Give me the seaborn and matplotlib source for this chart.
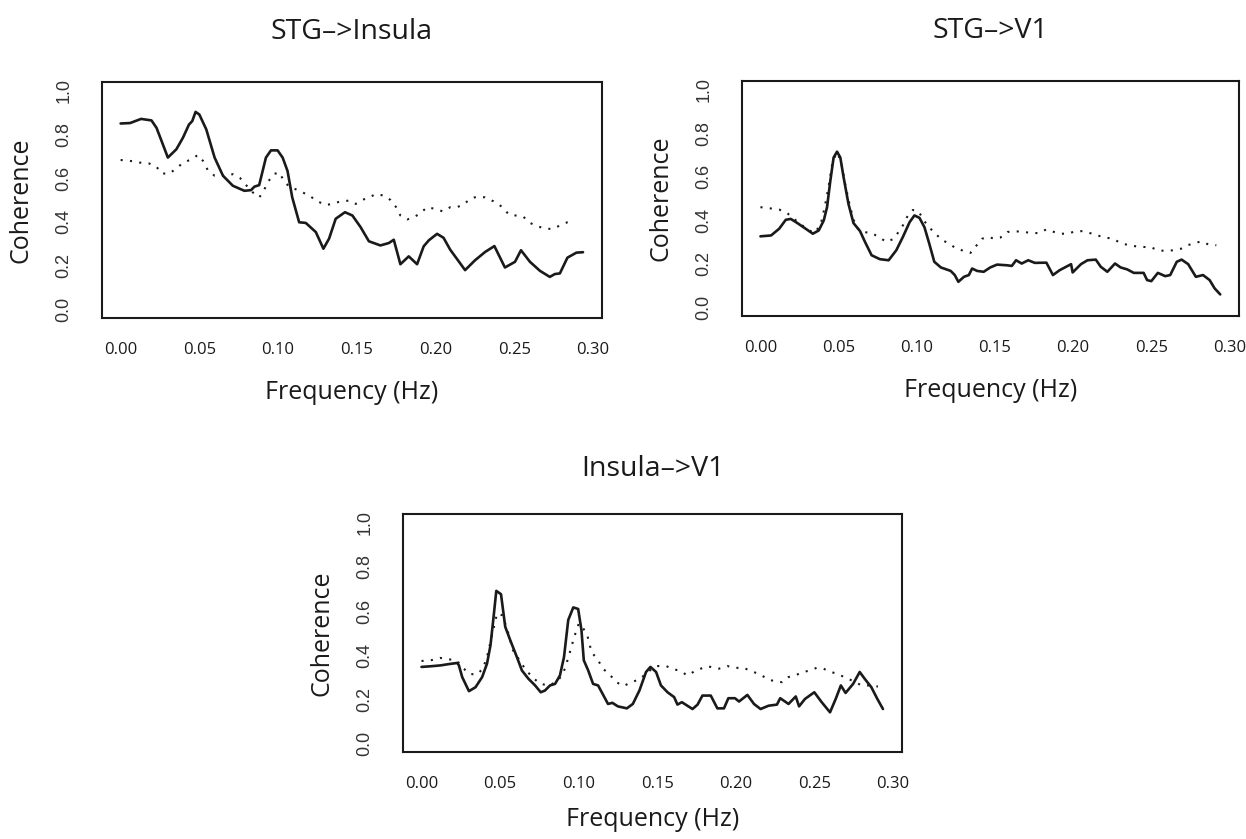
import pandas as pd
import seaborn as sns
import matplotlib
matplotlib.use("Agg")
import matplotlib.pyplot as plt

# coherence spectra (frequency in Hz)
# solid = observed coherence, dotted = null / threshold curve
stg_insula_freq = [0, .006, .013, .0196, .0228, .026, .030, .0354, .0396, .0434,
                   .0455, .0476, .050, .0544, .0597, .065, .0713, .0786, .0828, .085,
                   .088, .0923, .0955, .0997, .1029, .106, .109, .1134, .1176, .124,
                   .1288, .1324, .1366, .1425, .1472, .1524, .1577, .165, .1704, .1735,
                   .1777, .183, .1883, .1925, .1957, .201, .2051, .2093, .2188, .2251,
                   .2315, .2374, .2441, .2505, .2543, .26, .2663, .2726, .2758, .279,
                   .2838, .2895, .2937]
stg_insula_coh = [.85, .852, .871, .864, .83, .77, .694, .732, .785, .845,
                  .861, .903, .891, .823, .694, .611, .565, .542, .545, .561,
                  .568, .694, .727, .727, .694, .633, .512, .398, .395, .353,
                  .277, .323, .414, .444, .429, .376, .311, .292, .303, .318,
                  .206, .242, .206, .288, .315, .345, .327, .273, .179, .224,
                  .262, .289, .191, .217, .27, .217, .176, .148, .161, .164,
                  .236, .259, .261]
stg_insula_freq_null = [0, .0059, .0122, .0181, .0228, .026, .0312, .0358, .04, .0449,
                        .0491, .0523, .0554, .0597, .066, .0713, .0759, .0797, .0839, .0881,
                        .0907, .0934, .097, .1008, .1039, .1071, .1109, .1155, .1198, .125,
                        .1303, .1345, .1398, .1451, .1493, .1535, .1577, .1623, .1672, .1714,
                        .175, .1777, .182, .1862, .1904, .1946, .1999, .2045, .2094, .2136,
                        .2178, .222, .2262, .2315, .2368, .242, .2467, .2509, .2557, .26,
                        .2648, .2699, .2747, .2789, .2838, .2884]
stg_insula_coh_null = [.683, .679, .671, .667, .652, .621, .621, .648, .671, .686,
                       .706, .679, .636, .611, .611, .618, .6, .568, .535, .512,
                       .539, .58, .618, .626, .585, .561, .55, .535, .52, .494,
                       .477, .482, .494, .497, .482, .5, .512, .527, .52, .5,
                       .467, .429, .411, .421, .439, .467, .459, .448, .467, .467,
                       .479, .505, .515, .512, .494, .47, .433, .429, .424, .395,
                       .38, .368, .368, .383, .398, .402]

stg_v1_freq = [0, .0068, .012, .0162, .0194, .0236, .0289, .0335, .0373, .0405,
               .0426, .0447, .0468, .049, .0511, .0532, .0563, .0595, .0637, .0669,
               .0711, .0764, .082, .0869, .0911, .0954, .0985, .1017, .1049, .108,
               .1112, .1154, .1217, .1243, .1266, .1302, .1333, .1354, .1386, .1428,
               .147, .1513, .1576, .1608, .1635, .1671, .1713, .1755, .1829, .1871,
               .1913, .1955, .1987, .1997, .205, .2092, .2145, .2177, .2219, .2268,
               .2304, .2346, .2388, .2451, .2473, .25, .2542, .2589, .2621, .2663,
               .2694, .2736, .2785, .2831, .2873, .2905, .2941]
stg_v1_coh = [.326, .33, .361, .402, .406, .387, .361, .338, .353, .399,
              .46, .581, .688, .715, .688, .597, .475, .387, .35, .3,
              .239, .221, .216, .262, .323, .391, .422, .411, .368, .292,
              .209, .183, .167, .148, .117, .14, .148, .178, .167, .163,
              .183, .196, .193, .19, .216, .201, .216, .204, .205, .148,
              .17, .186, .198, .16, .198, .216, .219, .186, .163, .201,
              .183, .174, .158, .158, .125, .12, .158, .143, .148, .209,
              .219, .198, .14, .148, .125, .087, .059]
stg_v1_freq_null = [0, .0057, .012, .0169, .0215, .0289, .0342, .0384, .0411, .0437,
                    .0462, .049, .0515, .0542, .0574, .061, .0658, .0711, .0757, .0806,
                    .0854, .0911, .0943, .0975, .1006, .1038, .107, .1112, .1154, .12,
                    .1255, .1302, .1344, .138, .1418, .1456, .1496, .1534, .158, .1635,
                    .1688, .1734, .1783, .1829, .1878, .1924, .1966, .2013, .2061, .2103,
                    .2156, .2209, .2255, .2304, .2357, .2403, .2451, .2494, .2542, .2589,
                    .2642, .269, .2732, .2779, .2821, .2867, .2916]
stg_v1_coh_null = [.46, .455, .449, .434, .406, .364, .341, .376, .46, .559,
                   .673, .711, .673, .566, .46, .368, .346, .341, .323, .3,
                   .315, .376, .422, .447, .444, .411, .371, .346, .312, .295,
                   .269, .259, .25, .282, .315, .323, .315, .32, .346, .349,
                   .346, .341, .341, .358, .346, .338, .338, .349, .35, .342,
                   .33, .32, .315, .295, .285, .28, .277, .277, .262, .259,
                   .262, .269, .285, .295, .303, .288, .285]

insula_v1_freq = [0, .0059, .0122, .0175, .0228, .0238, .0259, .0302, .0344, .0386,
                  .0417, .0439, .046, .0476, .0506, .0533, .0565, .0607, .0639, .0681,
                  .0723, .0759, .0786, .0818, .085, .0881, .0907, .0934, .0966, .0997,
                  .1018, .1033, .1061, .1092, .1124, .1187, .1215, .125, .1307, .1345,
                  .1387, .1429, .1457, .1493, .1524, .1566, .1608, .1629, .1657, .1725,
                  .1757, .1788, .1841, .1883, .1925, .1953, .1995, .2021, .2074, .2116,
                  .2158, .2209, .2262, .2283, .2336, .2382, .2403, .2441, .25, .2547,
                  .26, .2638, .2669, .2699, .2747, .2789, .2821, .2863, .2901, .2937]
insula_v1_coh = [.346, .349, .353, .359, .364, .353, .3, .236, .254, .3,
                 .361, .444, .581, .691, .676, .528, .467, .391, .33, .292,
                 .262, .231, .239, .262, .269, .307, .391, .559, .616, .609,
                 .513, .376, .33, .269, .262, .178, .183, .167, .158, .178,
                 .239, .323, .346, .323, .262, .231, .209, .175, .186, .155,
                 .175, .216, .216, .158, .158, .204, .204, .189, .219, .178,
                 .155, .17, .175, .204, .178, .212, .167, .201, .231, .186,
                 .14, .204, .262, .228, .269, .323, .292, .254, .201, .155]
insula_v1_freq_null = [0, .0059, .0118, .0169, .0223, .0259, .0302, .035, .0392, .0422,
                       .0449, .0481, .0512, .0544, .0582, .0624, .0666, .0713, .0755, .0814,
                       .086, .0886, .0913, .0945, .0972, .1001, .1029, .1054, .1082, .1124,
                       .1155, .1198, .124, .1286, .1335, .1387, .144, .1493, .1556, .1598,
                       .1651, .1693, .1746, .182, .1893, .1946, .1999, .2041, .2104, .2156,
                       .2209, .2252, .2294, .2336, .2389, .2431, .2473, .2515, .2557, .261,
                       .2669, .2716, .2762, .28, .2853, .2905]
insula_v1_coh_null = [.373, .376, .387, .381, .376, .346, .315, .311, .338, .406,
                      .49, .589, .581, .521, .422, .376, .33, .295, .269, .262,
                      .28, .3, .338, .414, .482, .543, .521, .493, .414, .376,
                      .338, .311, .277, .259, .277, .289, .323, .35, .35, .338,
                      .326, .307, .33, .349, .338, .35, .341, .344, .326, .311,
                      .289, .28, .277, .3, .311, .323, .33, .342, .338, .323,
                      .307, .292, .277, .262, .262, .257]

titles = ["STG\u2013>Insula", "STG\u2013>V1", "Insula\u2013>V1"]
x_ticks = [0.00, 0.05, 0.10, 0.15, 0.20, 0.25, 0.30]
y_ticks = [0.0, 0.2, 0.4, 0.6, 0.8, 1.0]

INK = "#1a1a1a"


def draw_panel(ax, title, freq, coh, freq_null, coh_null, title_pad, xlabel_pad):
    df = pd.DataFrame({"Frequency": freq, "Coherence": coh})
    df_null = pd.DataFrame({"Frequency": freq_null, "Coherence": coh_null})

    sns.lineplot(x="Frequency", y="Coherence", data=df, ax=ax,
                 color=INK, linewidth=1.9, estimator=None)
    sns.lineplot(x="Frequency", y="Coherence", data=df_null, ax=ax,
                 color=INK, linewidth=1.5, linestyle=(0, (1, 3.5)), estimator=None)

    # R style axes: 4% padding, box all round, ticks outwards
    ax.set_xlim(-0.0118, 0.3058)
    ax.set_ylim(-0.04, 1.04)
    ax.set_xticks(x_ticks)
    ax.set_xticklabels(["%.2f" % t for t in x_ticks], fontsize=12, color=INK)
    ax.set_yticks(y_ticks)
    ax.set_yticklabels(["%.1f" % t for t in y_ticks], rotation=90, va="center",
                       fontsize=13, color="#333333", family="Liberation Sans")
    ax.tick_params(direction="out", length=7.2, width=1.4, color=INK)
    ax.tick_params(axis="x", pad=10)
    ax.tick_params(axis="y", pad=14)
    for s in ax.spines.values():
        s.set_visible(True)
        s.set_linewidth(1.5)
        s.set_color(INK)

    ax.set_xlabel("Frequency (Hz)", fontsize=18, labelpad=xlabel_pad, color=INK)
    ax.set_ylabel("Coherence", fontsize=18, labelpad=16, color=INK)
    ax.set_title(title, fontsize=20.5, pad=title_pad, color=INK)


def main():
    sns.set_style("white")
    plt.rcParams["font.family"] = ["Open Sans", "DejaVu Sans"]

    fig = plt.figure(figsize=(12.46, 8.39), dpi=100)
    ax1 = fig.add_axes([0.0819, 0.621, 0.4013, 0.2813])
    ax2 = fig.add_axes([0.5955, 0.6234, 0.3985, 0.2801])
    ax3 = fig.add_axes([0.3234, 0.1037, 0.4005, 0.2837])

    draw_panel(ax1, titles[0], stg_insula_freq, stg_insula_coh,
               stg_insula_freq_null, stg_insula_coh_null, 31, 16)
    draw_panel(ax2, titles[1], stg_v1_freq, stg_v1_coh,
               stg_v1_freq_null, stg_v1_coh_null, 31, 16)
    draw_panel(ax3, titles[2], insula_v1_freq, insula_v1_coh,
               insula_v1_freq_null, insula_v1_coh_null, 27, 11)

    fig.savefig("out.png", dpi=100)


if __name__ == "__main__":
    main()
